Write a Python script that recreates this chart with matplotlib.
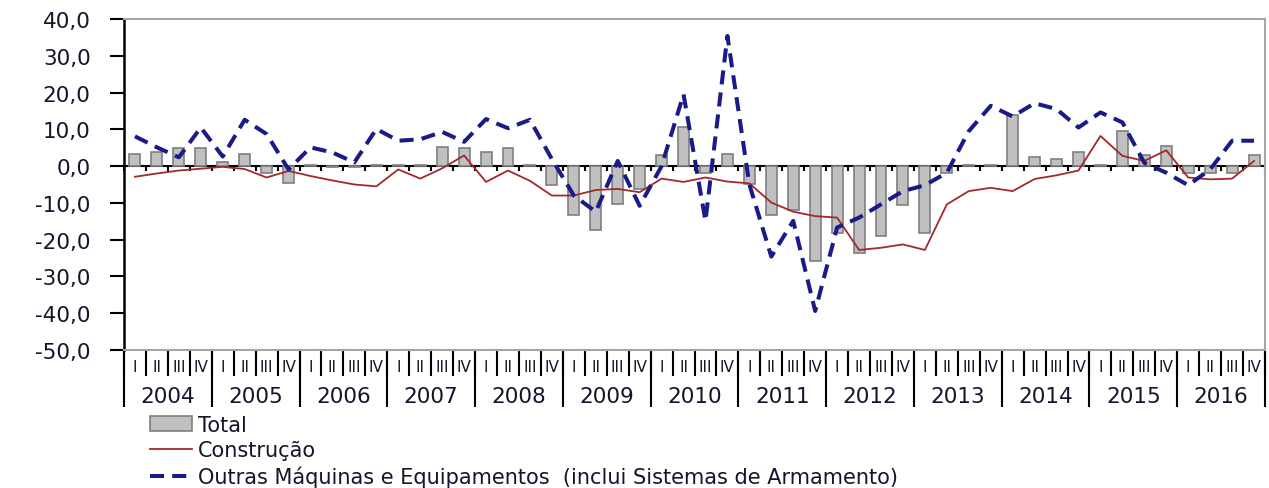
import numpy as np
import matplotlib
matplotlib.use("Agg")
import matplotlib.pyplot as plt
from matplotlib.lines import Line2D
from matplotlib.patches import Patch
from matplotlib.ticker import FuncFormatter, MultipleLocator

anos = list(range(2004, 2017))
trimestres = ["I", "II", "III", "IV"]

# variação trimestral (%), 2004.I a 2016.IV
total = [3.4, 3.9, 4.8, 4.8, 1.2, 3.4, -2.0, -4.7, 0.4, -0.2, -0.2,
         0.4, 0.4, 0.4, 5.3, 4.8, 3.9, 4.8, 0.4, -5.2, -13.2,
         -17.5, -10.4, -6.3, 2.9, 10.5, -2.0, 3.4, -4.8, -13.4, -12.0,
         -25.9, -18.1, -23.6, -19.0, -10.5, -18.1, -2.0, 0.4, 0.4, 13.9,
         2.5, 2.0, 3.9, 0.3, 9.5, 2.9, 5.6, -1.9, -1.9, -2.0, 2.9]
construcao = [-2.9, -2.0, -1.2, -0.7, -0.2, -0.8, -3.1, -1.3, -2.7, -3.9, -5.0,
              -5.5, -0.9, -3.4, -0.6, 2.9, -4.3, -1.2, -4.0, -8.0, -8.0,
              -6.5, -6.2, -7.1, -3.4, -4.3, -3.1, -4.2, -4.7, -9.9, -12.4,
              -13.6, -14.0, -22.8, -22.2, -21.3, -22.8, -10.4, -6.8, -5.9, -6.8,
              -3.5, -2.5, -1.2, 8.2, 2.8, 1.4, 4.3, -3.1, -3.6, -3.4, 1.4]
maquinas = [8.1, 5.1, 2.4, 10.5, 2.6, 12.6, 8.7, -0.9, 5.1, 3.7, 1.0,
            10.1, 6.9, 7.3, 9.3, 6.6, 12.8, 10.3, 12.6, 1.9, -8.0,
            -12.4, 1.4, -10.8, 0.0, 19.5, -14.9, 35.4, -5.0, -24.6, -14.9,
            -39.4, -16.7, -14.0, -10.4, -6.8, -5.2, -1.8, 9.5, 16.4, 13.5,
            17.1, 15.5, 10.5, 14.6, 11.9, 0.9, -1.8, -5.2, -0.9, 6.9, 6.9]

cor_barra = '#c0c0c0'
cor_borda = '#7f7f7f'
cor_constr = '#a3282b'
cor_maq = '#1a1a88'
cor_texto = '#14142b'

plt.rcParams['font.family'] = ['DejaVu Sans']

W, H = 1269, 489
fig = plt.figure(figsize=(W / 100, H / 100), dpi=100)
ax = fig.add_axes([124 / W, 1 - 351 / H, (1265 - 124) / W, (351 - 20) / H])

x = np.arange(len(total))
ax.bar(x, total, width=0.5, color=cor_barra, edgecolor=cor_borda, linewidth=1.2, zorder=2)
ax.plot(x, construcao, color=cor_constr, lw=1.3, zorder=3)
ax.plot(x, maquinas, color=cor_maq, lw=2.9, ls=(0, (3.5, 2)), zorder=4)

ax.set_xlim(-0.5, len(total) - 0.5)
ax.set_ylim(-50, 40)
ax.yaxis.set_major_locator(MultipleLocator(10))
ax.yaxis.set_major_formatter(FuncFormatter(lambda v, p: f"{v:.1f}".replace('.', ',')))
ax.tick_params(axis='y', direction='out', length=10, width=1.5, pad=14,
               labelsize=15.5, labelcolor=cor_texto, color='black')

for s in ['top', 'right', 'bottom']:
    ax.spines[s].set_color('#a6a6a6')
    ax.spines[s].set_linewidth(1.5)
ax.spines['left'].set_color('black')
ax.spines['left'].set_linewidth(1.8)

# separadores de trimestre abaixo do gráfico
limites = np.arange(-0.5, len(total), 1)
ax.set_xticks(limites)
ax.set_xticklabels([])
ax.tick_params(axis='x', direction='out', length=19, width=1.5, color='black')

trans = ax.get_xaxis_transform()
for b in limites[::4]:
    ax.plot([b, b], [0, -57 / 331], transform=trans, color='black', lw=1.5,
            clip_on=False, solid_capstyle='butt')

for i in x:
    ax.text(i, -0.05, trimestres[i % 4], transform=trans, ha='center', va='center',
            fontsize=11, color=cor_texto)
for k, ano in enumerate(anos):
    ax.text(4 * k + 1.5, -0.139, str(ano), transform=trans, ha='center', va='center',
            fontsize=15.5, color=cor_texto)

# linha do zero com marcas
zero = ax.secondary_xaxis(50 / 90)
zero.set_alignment('bottom')
zero.set_xticks(limites)
zero.set_xticklabels([])
zero.tick_params(direction='out', length=3.6, width=1.5, color='black')
zero.spines['bottom'].set_color('black')
zero.spines['bottom'].set_linewidth(1.5)

handles = [Patch(facecolor=cor_barra, edgecolor=cor_borda, linewidth=1.2),
           Line2D([], [], color=cor_constr, lw=1.3),
           Line2D([], [], color=cor_maq, lw=2.9, ls=(0, (3.5, 2)))]
labels = ['Total', 'Construção',
          'Outras Máquinas e Equipamentos  (inclui Sistemas de Armamento)']
leg = fig.legend(handles, labels, loc='upper left', bbox_to_anchor=(150 / W, 1 - 416 / H),
                 frameon=False, fontsize=15, handlelength=2.0, handletextpad=0.3,
                 labelspacing=0.25, borderpad=0, borderaxespad=0)
for t in leg.get_texts():
    t.set_color(cor_texto)

fig.savefig('out.png', dpi=100, facecolor='white')
